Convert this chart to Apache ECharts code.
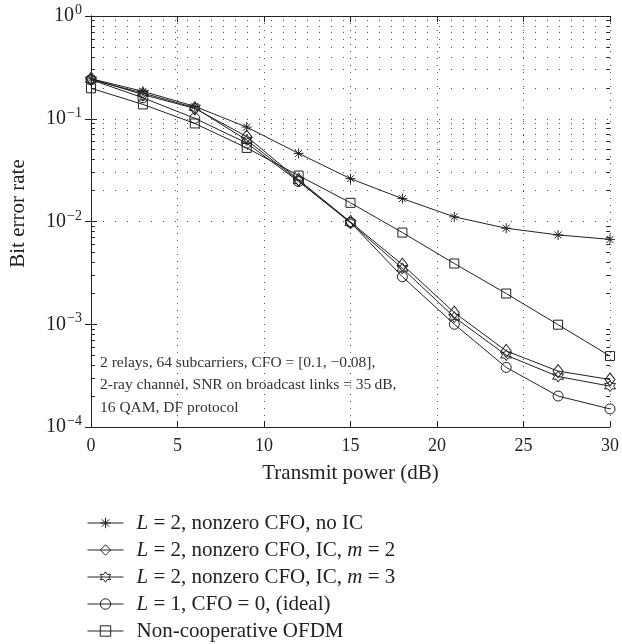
<!DOCTYPE html>
<html>
<head>
<meta charset="utf-8">
<script src="https://cdn.jsdelivr.net/npm/echarts@6/dist/echarts.min.js"></script>
<style>
html, body { margin: 0; background: #fff; }
#main { width: 622px; height: 644px; }
</style>
</head>
<body>
<div id="main"></div>
<script>
// transmit power (dB)
var power = [0, 3, 6, 9, 12, 15, 18, 21, 24, 27, 30];
// bit error rates
var noIC     = [0.245, 0.185, 0.132, 0.083, 0.046, 0.0261, 0.0167, 0.0111, 0.0086, 0.0074, 0.0067];
var icM2     = [0.245, 0.172, 0.126, 0.067, 0.0255, 0.0099, 0.0038, 0.0013, 0.00055, 0.00035, 0.00029];
var icM3     = [0.240, 0.178, 0.128, 0.062, 0.025, 0.0097, 0.0035, 0.00117, 0.0005, 0.00031, 0.00025];
var ideal    = [0.240, 0.160, 0.101, 0.058, 0.0245, 0.0098, 0.0029, 0.00100, 0.00038, 0.0002, 0.00015];
var nonCoop  = [0.198, 0.138, 0.090, 0.052, 0.0280, 0.0152, 0.0078, 0.0039, 0.00199, 0.00099, 0.00049];

var seriesNames = [
    'L = 2, nonzero CFO, no IC',
    'L = 2, nonzero CFO, IC, m = 2',
    'L = 2, nonzero CFO, IC, m = 3',
    'L = 1, CFO = 0, (ideal)',
    'Non-cooperative OFDM'
];
var richNames = [
    '{i|L} = 2, nonzero CFO, no IC',
    '{i|L} = 2, nonzero CFO, IC, {i|m} = 2',
    '{i|L} = 2, nonzero CFO, IC, {i|m} = 3',
    '{i|L} = 1, CFO = 0, (ideal)',
    'Non-cooperative OFDM'
];
var minorSteps = [2, 3, 4, 5, 6, 7, 8, 9];

var font = 'Liberation Serif';
var ink = '#222';
var clear = 'rgba(255,255,255,0)';

// marker shapes
var asterisk = 'path://M0,-5L0,5M-5,0L5,0M-3.5,-3.5L3.5,3.5M-3.5,3.5L3.5,-3.5';
var diamond = 'path://M0,-7L5,0L0,7L-5,0Z';
var hexagram = (function () {
    var p = [];
    for (var k = 0; k < 12; k++) {
        var r = k % 2 === 0 ? 10 : 5.77;
        var a = (-90 + k * 30) * Math.PI / 180;
        p.push((k ? 'L' : 'M') + (r * Math.cos(a)).toFixed(2) + ',' + (r * Math.sin(a)).toFixed(2));
    }
    return 'path://' + p.join('') + 'Z';
})();

function pairs(ys) {
    return power.map(function (x, i) { return [x, ys[i]]; });
}

// dotted grid rows and the small ticks on the frame
var minorVals = [];
[-4, -3, -2, -1].forEach(function (e) {
    minorSteps.forEach(function (m) { minorVals.push(m * Math.pow(10, e)); });
});
var gridRows = minorVals.concat([1e-3, 1e-2, 1e-1]).map(function (v) { return { yAxis: v }; });
var tickMarks = [];
minorVals.forEach(function (v) {
    tickMarks.push([{ coord: [0, v] }, { coord: [0.22, v] }]);
    tickMarks.push([{ coord: [29.78, v] }, { coord: [30, v] }]);
});

var myChart = echarts.init(document.getElementById('main'));

function makeSeries(name, ys, symbol, size) {
    return {
        name: name,
        type: 'line',
        data: pairs(ys),
        symbol: symbol,
        symbolSize: size,
        showAllSymbol: true,
        lineStyle: { color: ink, width: 1 },
        itemStyle: { color: clear, borderColor: ink, borderWidth: 1 },
        z: 5
    };
}

var option = {
    animation: false,
    backgroundColor: '#fff',
    grid: { left: 89, top: 16, right: 10, bottom: 217, containLabel: false },
    legend: {
        data: seriesNames,
        orient: 'vertical',
        left: 87,
        top: 512,
        height: 160,
        padding: 0,
        itemWidth: 36,
        itemHeight: 13,
        itemGap: 5,
        itemStyle: { color: clear, borderColor: ink, borderWidth: 1 },
        lineStyle: { color: ink, width: 1 },
        formatter: function (name) { return richNames[seriesNames.indexOf(name)]; },
        textStyle: {
            fontFamily: font, fontSize: 21, lineHeight: 22, color: ink, padding: [0, 0, 0, 8],
            rich: { i: { fontFamily: font, fontSize: 21, lineHeight: 22, fontStyle: 'italic', color: ink } }
        }
    },
    xAxis: [{
        type: 'value', min: 0, max: 30, interval: 5,
        name: 'Transmit power (dB)', nameLocation: 'middle', nameGap: 36,
        nameTextStyle: { fontFamily: font, fontSize: 21, color: ink },
        axisLine: { lineStyle: { color: ink, width: 1 } },
        axisTick: { inside: true, length: 6, lineStyle: { color: ink } },
        axisLabel: { fontFamily: font, fontSize: 18, color: ink, margin: 10 },
        splitLine: { show: true, lineStyle: { color: '#555', type: [1, 6], width: 1 } }
    }, {
        type: 'value', min: 0, max: 30, interval: 5, position: 'top',
        axisLine: { show: true, lineStyle: { color: ink, width: 1 } },
        axisTick: { inside: true, length: 6, lineStyle: { color: ink } },
        axisLabel: { show: false },
        splitLine: { show: false }
    }],
    yAxis: [{
        type: 'log', logBase: 10, min: 1e-4, max: 1,
        name: 'Bit error rate', nameLocation: 'middle', nameGap: 62, nameRotate: 90,
        nameTextStyle: { fontFamily: font, fontSize: 21, color: ink, padding: [0, 0, 0, 16] },
        axisLine: { show: true, lineStyle: { color: ink, width: 1 } },
        axisTick: { inside: true, length: 6, lineStyle: { color: ink } },
        axisLabel: {
            margin: 9,
            formatter: function (v) {
                var e = Math.round(Math.log10(v));
                return '{b|10}{s|' + (e < 0 ? '\u2212' + (-e) : e) + '}';
            },
            rich: {
                b: { fontFamily: font, fontSize: 20, color: ink },
                s: { fontFamily: font, fontSize: 14, color: ink, padding: [0, 0, 11, 1] }
            }
        },
        splitLine: { show: false }
    }, {
        type: 'log', logBase: 10, min: 1e-4, max: 1, position: 'right',
        axisLine: { show: true, lineStyle: { color: ink, width: 1 } },
        axisTick: { inside: true, length: 6, lineStyle: { color: ink } },
        axisLabel: { show: false },
        splitLine: { show: false }
    }],
    graphic: [
        { type: 'text', left: 100, top: 355, silent: true,
          style: { text: '2 relays, 64 subcarriers, CFO = [0.1, \u22120.08],', fontFamily: font, fontSize: 15.5, fill: '#333' } },
        { type: 'text', left: 100, top: 377, silent: true,
          style: { text: '2-ray channel, SNR on broadcast links = 35\u2009dB,', fontFamily: font, fontSize: 15.5, fill: '#333' } },
        { type: 'text', left: 100, top: 400, silent: true,
          style: { text: '16 QAM, DF protocol', fontFamily: font, fontSize: 15.5, fill: '#333' } }
    ],
    series: [
        {
            name: 'grid',
            type: 'line',
            data: [],
            silent: true,
            markLine: {
                silent: true, symbol: 'none', label: { show: false },
                lineStyle: { color: '#555', type: [1, 11], width: 1 },
                data: gridRows
            },
            z: 1
        },
        {
            name: 'ticks',
            type: 'line',
            data: [],
            silent: true,
            markLine: {
                silent: true, symbol: 'none', label: { show: false },
                lineStyle: { color: ink, type: 'solid', width: 1 },
                data: tickMarks
            },
            z: 1
        },
        makeSeries(seriesNames[0], noIC, asterisk, 10),
        makeSeries(seriesNames[1], icM2, diamond, [10, 13]),
        makeSeries(seriesNames[2], icM3, hexagram, 11),
        makeSeries(seriesNames[3], ideal, 'circle', 10),
        makeSeries(seriesNames[4], nonCoop, 'rect', 9)
    ]
};
myChart.setOption(option);
</script>
</body>
</html>
